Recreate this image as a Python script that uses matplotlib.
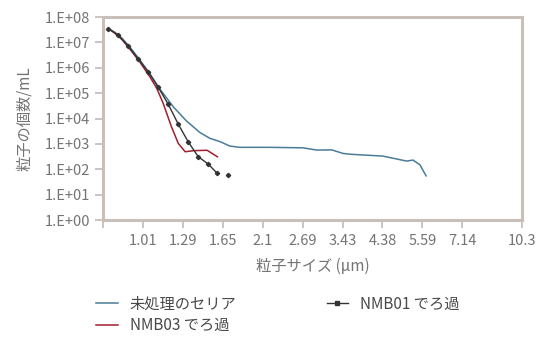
import matplotlib
matplotlib.use("Agg")
import matplotlib.pyplot as plt
from matplotlib.lines import Line2D

plt.rcParams['font.family'] = ['Noto Sans CJK JP', 'DejaVu Sans']

# particle size (um) and count per mL
untreated_x = [0.816, 0.850, 0.888, 0.932, 0.991, 1.054, 1.120, 1.215, 1.319, 1.431,
               1.522, 1.618, 1.72, 1.829, 2.198, 2.69, 2.93, 3.21, 3.44, 3.6,
               4.39, 5.08, 5.28, 5.51, 5.72]
untreated_y = [3.5e7, 2.5e7, 1.46e7, 6.5e6, 2.0e6, 5.6e5, 1.44e5, 2.9e4, 7.9e3, 2.8e3,
               1.65e3, 1.23e3, 8.2e2, 7.3e2, 7.3e2, 7.0e2, 5.7e2, 5.8e2, 4.2e2, 3.9e2,
               3.3e2, 2.1e2, 2.3e2, 1.5e2, 55]

nmb03_x = [0.816, 0.850, 0.888, 0.932, 0.991, 1.054, 1.098, 1.143, 1.202, 1.253,
           1.307, 1.377, 1.495, 1.593]
nmb03_y = [3.5e7, 2.3e7, 1.28e7, 5.4e6, 1.66e6, 4.3e5, 1.57e5, 3.9e4, 4.7e3, 1.05e3,
           4.9e2, 5.4e2, 5.6e2, 3.1e2]

nmb01_x = [0.816, 0.868, 0.922, 0.981, 1.043, 1.109, 1.179, 1.253, 1.332, 1.417,
           1.506, 1.591]
nmb01_y = [3.5e7, 1.9e7, 7.1e6, 2.2e6, 6.9e5, 1.68e5, 3.6e4, 6.0e3, 1.2e3, 3.1e2,
           1.6e2, 69]
nmb01_extra_x = [1.702]
nmb01_extra_y = [59]

x_ticks = [0.79, 1.01, 1.29, 1.65, 2.1, 2.69, 3.43, 4.38, 5.59, 7.14, 10.3]
x_labels = ['', '1.01', '1.29', '1.65', '2.1', '2.69', '3.43', '4.38', '5.59', '7.14', '10.3']
y_ticks = [1, 1e1, 1e2, 1e3, 1e4, 1e5, 1e6, 1e7, 1e8]
y_labels = ['1.E+00', '1.E+01', '1.E+02', '1.E+03', '1.E+04', '1.E+05', '1.E+06', '1.E+07', '1.E+08']

blue = '#4a7c98'
red = '#a11f2e'
dark = '#333333'
frame = '#c8bfb9'
text = '#747474'

fig = plt.figure(figsize=(5.4, 3.43), dpi=100)
ax = fig.add_axes([0.1907, 0.3586, 0.776, 0.5918])

ax.plot(untreated_x, untreated_y, color=blue, lw=1.1)
ax.plot(nmb03_x, nmb03_y, color=red, lw=1.1)
ax.plot(nmb01_x, nmb01_y, color=dark, lw=1.0, marker='D', ms=2.2)
ax.plot(nmb01_extra_x, nmb01_extra_y, color=dark, lw=0, marker='D', ms=2.2)

ax.set_xscale('log')
ax.set_yscale('log')
ax.set_xlim(0.79, 10.3)
ax.set_ylim(1, 1e8)
ax.set_xticks(x_ticks)
ax.set_xticklabels(x_labels)
ax.xaxis.set_minor_locator(matplotlib.ticker.NullLocator())
ax.set_yticks(y_ticks)
ax.set_yticklabels(y_labels)
ax.yaxis.set_minor_locator(matplotlib.ticker.NullLocator())

for s in ax.spines.values():
    s.set_color(frame)
    s.set_linewidth(2.2)
ax.tick_params(axis='both', colors=frame, labelcolor=text, labelsize=10.5,
               length=6, width=1.3)
ax.tick_params(axis='x', pad=4)
ax.tick_params(axis='y', pad=3)

ax.set_xlabel('粒子サイズ (μm)', color=text, fontsize=11, labelpad=7)
ax.set_ylabel('粒子の個数/mL', color=text, fontsize=11, labelpad=9)

handles = [
    Line2D([], [], color=blue, lw=1.1),
    Line2D([], [], color=red, lw=1.1),
    Line2D([], [], color=dark, lw=1.0, marker='s', ms=2.2),
]
labels = ['未処理のセリア', 'NMB03 でろ過', 'NMB01 でろ過']
fig.legend(handles, labels, ncol=2, loc='upper left', bbox_to_anchor=(0.178, 0.138),
           frameon=False, fontsize=11, labelcolor='#4a4a4a', handlelength=1.4,
           handletextpad=0.8, columnspacing=5.9, labelspacing=0.3,
           borderpad=0, borderaxespad=0)

fig.savefig('out.png', dpi=100)
